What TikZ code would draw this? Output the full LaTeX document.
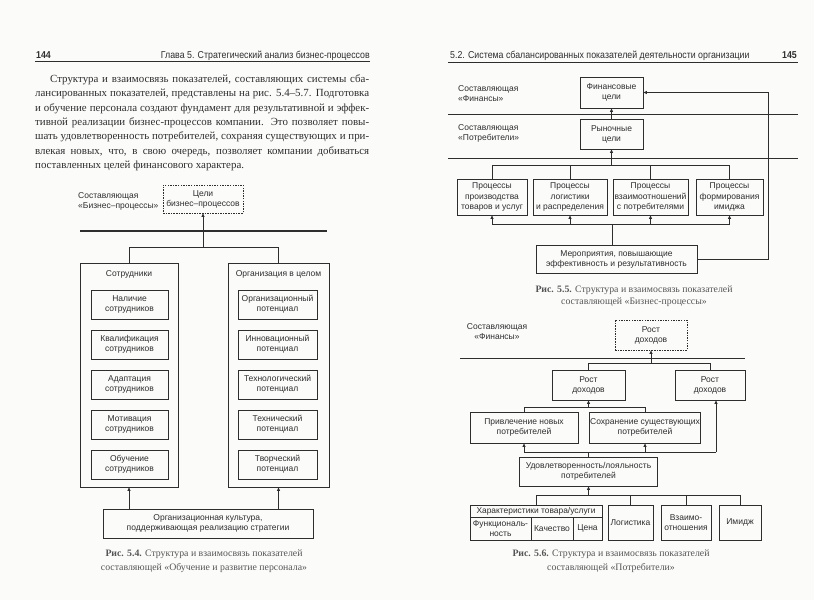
\documentclass[tikz,border=0pt]{standalone}
\usepackage{fontspec}
\setmainfont{Liberation Serif}
\setsansfont{Liberation Sans}
\newfontfamily\hdrfont[FakeStretch=0.88]{Liberation Sans}
\usetikzlibrary{arrows.meta}
\definecolor{ink}{HTML}{2E2E2E}
\definecolor{capink}{HTML}{555555}
\definecolor{paper}{HTML}{FBFBFA}
\tikzset{
 box/.style={draw=ink, line width=0.7pt, inner sep=0pt, align=center, font=\sffamily\fontsize{8.5}{10}\selectfont, text=ink},
 dbox/.style={box, dash pattern=on 1.5pt off 1.1pt},
 ln/.style={draw=ink, line width=0.7pt},
 arr/.style={ln, -{Triangle[length=3.5pt,width=3pt]}},
 lbl/.style={inner sep=0pt, align=left, font=\sffamily\fontsize{8.5}{10}\selectfont, text=ink},
 sepline/.style={draw=ink, line width=0.8pt},
 thickrule/.style={draw=ink, line width=1.5pt},
 body/.style={inner sep=0pt, anchor=base west, font=\fontsize{10.9}{14}\selectfont, text=ink},
 figcap/.style={inner sep=0pt, align=center, font=\fontsize{9.8}{14}\selectfont, text=capink},
 hdr/.style={inner sep=0pt, font=\hdrfont\fontsize{10}{12}\selectfont, text=ink},
 pnum/.style={inner sep=0pt, font=\hdrfont\bfseries\fontsize{10}{12}\selectfont, text=ink},
 hrule/.style={draw=ink, line width=0.8pt},
}
\begin{document}
\begin{tikzpicture}[x=1pt,y=-1pt]
\fill[paper] (0,0) rectangle (814,600);
\useasboundingbox (0,0) rectangle (814,600);

% ---------------- left page ----------------
\node[pnum, anchor=base west] (pn1) at (36,58) {144};
\node[hdr, anchor=base east] (hd1) at (370,58) {Глава 5. Стратегический анализ бизнес-процессов};
\draw[hrule] (35,61.5) -- (370,61.5);

\node[body] (l1) at (50,82.5) {\makebox[319pt][s]{Структура и взаимосвязь показателей, составляющих системы сба-}};
\node[body] (l2) at (35,96.8) {\makebox[334pt][s]{лансированных показателей, представлены на рис. 5.4–5.7. Подготовка}};
\node[body] (l3) at (35,111.1) {\makebox[334pt][s]{и обучение персонала создают фундамент для результативной и эффек-}};
\node[body] (l4) at (35,125.4) {\makebox[334pt][s]{тивной реализации бизнес-процессов компании. Это позволяет повы-}};
\node[body] (l5) at (35,139.7) {\makebox[334pt][s]{шать удовлетворенность потребителей, сохраняя существующих и при-}};
\node[body] (l6) at (35,154.0) {\makebox[334pt][s]{влекая новых, что, в свою очередь, позволяет компании добиваться}};
\node[body] (l7) at (35,168.3) {поставленных целей финансового характера.};

% Fig 5.4
\node[lbl, anchor=west] (c1) at (78,201) {Составляющая\\«Бизнес–процессы»};
\node[dbox, minimum width=80pt, minimum height=28pt] (goal) at (203,199) {Цели\\бизнес–процессов};
\draw[thickrule] (80,231) -- (327,231);

\node[box, minimum width=98pt, minimum height=224pt] (emp) at (129,375) {};
\node[box, minimum width=101pt, minimum height=224pt] (org) at (278.5,375) {};
\node[lbl, align=center] (empt) at (129,274) {Сотрудники};
\node[lbl, align=center] (orgt) at (278.5,274) {Организация в целом};

\node[box, minimum width=77pt, minimum height=29pt] (e1) at (129.5,304.5) {Наличие\\сотрудников};
\node[box, minimum width=77pt, minimum height=29pt] (e2) at (129.5,344.5) {Квалификация\\сотрудников};
\node[box, minimum width=77pt, minimum height=29pt] (e3) at (129.5,384.5) {Адаптация\\сотрудников};
\node[box, minimum width=77pt, minimum height=29pt] (e4) at (129.5,424.5) {Мотивация\\сотрудников};
\node[box, minimum width=77pt, minimum height=29pt] (e5) at (129.5,464.5) {Обучение\\сотрудников};

\node[box, minimum width=79pt, minimum height=29pt] (o1) at (277.5,304.5) {Организационный\\потенциал};
\node[box, minimum width=79pt, minimum height=29pt] (o2) at (277.5,344.5) {Инновационный\\потенциал};
\node[box, minimum width=79pt, minimum height=29pt] (o3) at (277.5,384.5) {Технологический\\потенциал};
\node[box, minimum width=79pt, minimum height=29pt] (o4) at (277.5,424.5) {Технический\\потенциал};
\node[box, minimum width=79pt, minimum height=29pt] (o5) at (277.5,464.5) {Творческий\\потенциал};

\node[box, minimum width=210pt, minimum height=29pt] (cult) at (208,523.5) {Организационная культура,\\поддерживающая реализацию стратегии};

\coordinate (j1) at (203,247);
\draw[ln] (emp.north) -- (emp.north |- j1) -- (org.north |- j1) -- (org.north);
\draw[arr] (j1) -- (goal.south);
\draw[arr] (cult.north -| emp.south) -- (emp.south);
\draw[arr] (cult.north -| org.south) -- (org.south);

\node[figcap] (cap4) at (204,561) {\textbf{Рис. 5.4.} Структура и взаимосвязь показателей\\составляющей «Обучение и развитие персонала»};

% ---------------- right page ----------------
\node[hdr, anchor=base west] (hd2) at (450,58) {5.2. Система сбалансированных показателей деятельности организации};
\node[pnum, anchor=base east] (pn2) at (797,58) {145};
\draw[hrule] (448,62) -- (798,62);

% Fig 5.5
\node[lbl, anchor=west] (c2) at (458,94) {Составляющая\\«Финансы»};
\node[box, minimum width=63pt, minimum height=31pt] (fin) at (611.5,92.5) {Финансовые\\цели};
\draw[sepline] (448,114) -- (798,114);
\node[lbl, anchor=west] (c3) at (458,133) {Составляющая\\«Потребители»};
\node[box, minimum width=63pt, minimum height=30pt] (mkt) at (611.5,134) {Рыночные\\цели};
\draw[sepline] (448,158) -- (798,158);
\draw[arr] (mkt.north) -- (fin.south);

\tikzset{pbox/.style={box, minimum height=36pt, font=\sffamily\fontsize{8.5}{10.5}\selectfont}}
\node[pbox, minimum width=70pt] (p1) at (492,197) {Процессы\\производства\\товаров и услуг};
\node[pbox, minimum width=74pt] (p2) at (570,197) {Процессы\\логистики\\и распределения};
\node[pbox, minimum width=75pt] (p3) at (650.5,197) {Процессы\\взаимоотношений\\с потребителями};
\node[pbox, minimum width=67pt] (p4) at (729.5,197) {Процессы\\формирования\\имиджа};

\coordinate (jt) at (611.5,165);
\draw[ln] (p1.north) -- (p1.north |- jt) -- (p4.north |- jt) -- (p4.north);
\draw[ln] (p2.north) -- (p2.north |- jt);
\draw[ln] (p3.north) -- (p3.north |- jt);
\draw[arr] (jt) -- (mkt.south);

\node[box, minimum width=161pt, minimum height=28pt] (act) at (616.5,259) {Мероприятия, повышающие\\эффективность и результативность};
\coordinate (jb) at (612,224);
\draw[ln] (p1.south |- jb) -- (p4.south |- jb);
\draw[ln] (jb) -- (jb |- act.north);
\draw[arr] (p1.south |- jb) -- (p1.south);
\draw[arr] (p2.south |- jb) -- (p2.south);
\draw[arr] (p3.south |- jb) -- (p3.south);
\draw[arr] (p4.south |- jb) -- (p4.south);
\coordinate (fb) at (768,0);
\draw[arr] (act.east) -| (fb |- fin.east) -- (fin.east);

\node[figcap, font=\fontsize{9.8}{12.5}\selectfont] (cap5) at (634,296) {\textbf{Рис. 5.5.} Структура и взаимосвязь показателей\\составляющей «Бизнес-процессы»};

% Fig 5.6
\node[lbl, align=center] (c4) at (497,332) {Составляющая\\«Финансы»};
\node[dbox, minimum width=72pt, minimum height=30pt] (rg0) at (651,335) {Рост\\доходов};
\draw[sepline] (460,358) -- (745,358);
\node[box, minimum width=73pt, minimum height=30pt] (rg1) at (588.5,385) {Рост\\доходов};
\node[box, minimum width=70pt, minimum height=30pt] (rg2) at (710,385) {Рост\\доходов};
\coordinate (j61) at (651,363);
\draw[ln] (rg1.north) -- (rg1.north |- j61) -- (rg2.north |- j61) -- (rg2.north);
\draw[arr] (j61) -- (rg0.south);

\node[box, minimum width=108pt, minimum height=31pt] (att) at (524,427.5) {Привлечение новых\\потребителей};
\node[box, minimum width=111pt, minimum height=31pt] (ret) at (645,427.5) {Сохранение существующих\\потребителей};
\coordinate (j62) at (588.5,407);
\draw[ln] (att.north) -- (att.north |- j62) -- (ret.north |- j62) -- (ret.north);
\draw[arr] (j62) -- (rg1.south);

\node[box, minimum width=138pt, minimum height=29pt] (sat) at (588.5,471.5) {Удовлетворенность/лояльность\\потребителей};
\coordinate (j63) at (588.5,452);
\coordinate (j63r) at (716,452);
\draw[ln] (att.south |- j63) -- (j63r);
\draw[arr] (att.south |- j63) -- (att.south);
\draw[arr] (ret.south |- j63) -- (ret.south);
\draw[arr] (j63r) -- (j63r |- rg2.south);
\draw[ln] (j63) -- (sat.north);

\node[box, minimum width=132pt, minimum height=12pt, font=\sffamily\fontsize{8.4}{10}\selectfont] (chh) at (536,511) {Характеристики товара/услуги};
\node[box, minimum width=61pt, minimum height=23pt] (fun) at (500.5,528.5) {Функциональ-\\ность};
\node[box, minimum width=42pt, minimum height=23pt] (qua) at (552,528.5) {Качество};
\node[box, minimum width=29pt, minimum height=23pt] (pri) at (587.5,528.5) {Цена};
\node[box, minimum width=45pt, minimum height=35pt] (lgs) at (630.5,522.5) {Логистика};
\node[box, minimum width=50pt, minimum height=35pt] (vz) at (686,522.5) {Взаимо-\\отношения};
\node[box, minimum width=42pt, minimum height=35pt] (im) at (740,522.5) {Имидж};
\coordinate (j64) at (588.5,495);
\draw[ln] (chh.north) -- (chh.north |- j64) -- (im.north |- j64) -- (im.north);
\draw[ln] (lgs.north) -- (lgs.north |- j64);
\draw[ln] (vz.north) -- (vz.north |- j64);
\draw[arr] (j64) -- (sat.south);

\node[figcap] (cap6) at (611,561) {\textbf{Рис. 5.6.} Структура и взаимосвязь показателей\\составляющей «Потребители»};
\end{tikzpicture}
\end{document}
